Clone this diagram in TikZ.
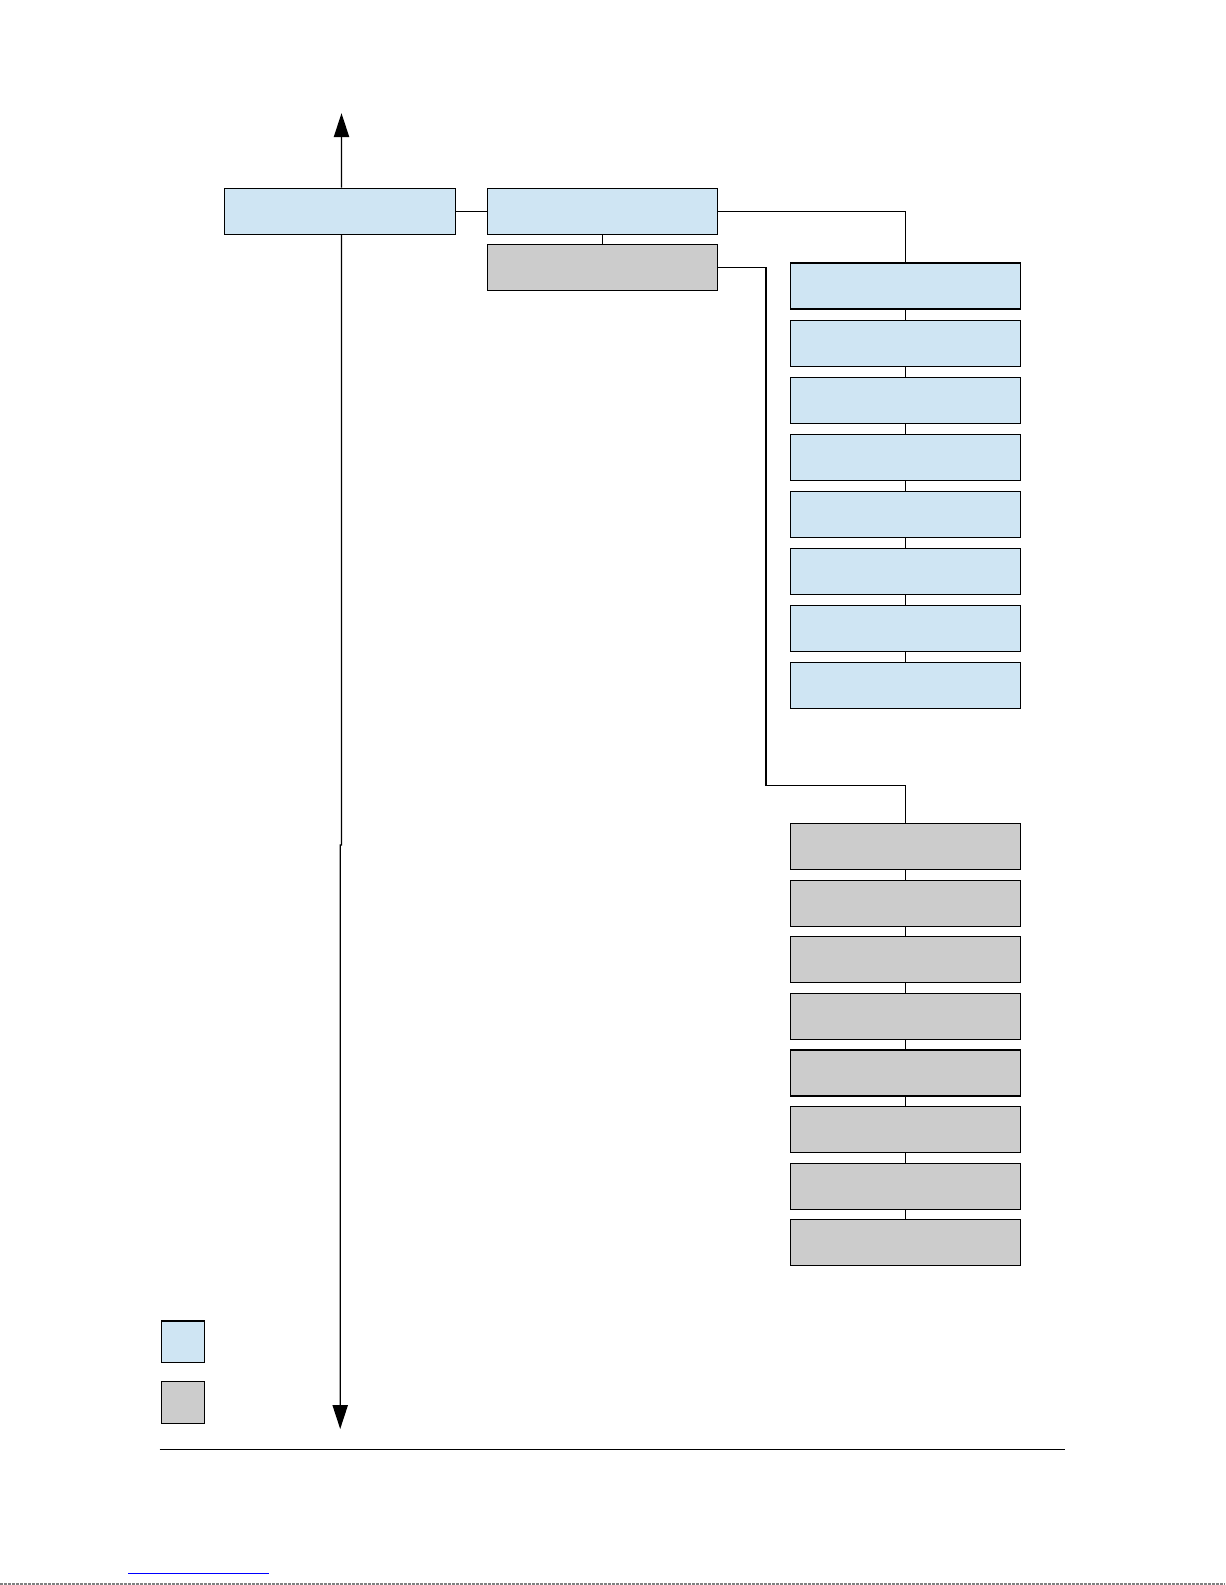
\documentclass[tikz,border=0pt]{standalone}
\usetikzlibrary{arrows.meta,calc}
\definecolor{lightblue}{RGB}{207,229,243}
\definecolor{boxgray}{RGB}{204,204,204}
\begin{document}
\begin{tikzpicture}[x=0.75pt,y=-0.75pt,
  box/.style={draw=black,line width=0.9pt,inner sep=0pt,minimum width=172.5pt,minimum height=34.5pt},
  bluebox/.style={box,fill=lightblue},
  graybox/.style={box,fill=boxgray},
  legbox/.style={draw=black,line width=0.9pt,inner sep=0pt,minimum width=31.9pt,minimum height=31.2pt},
  conn/.style={draw=black,line width=0.9pt},
  arr/.style={conn,-{Triangle[length=18pt,width=11.5pt]}}]
\useasboundingbox (0,0) rectangle (1225,1585);
% main boxes
\node[bluebox,minimum width=173pt] (A) at (340.1,211.2) {};
\node[bluebox] (B) at (602.3,211.2) {};
\node[graybox] (C) at (602.3,267.8) {};
% right columns
\foreach \i in {1,...,8}{
  \node[bluebox] (b\i) at (905.4,{286+57.1*(\i-1)}) {};
  \node[graybox] (g\i) at (905.4,{846.5+56.6*(\i-1)}) {};
}
\foreach \i [evaluate=\i as \j using int(\i+1)] in {1,...,7}{
  \draw[conn] (b\i.south) -- (b\j.north);
  \draw[conn] (g\i.south) -- (g\j.north);
}
% connectors
\draw[conn] (A.east) -- (B.west);
\draw[conn] (B.south) -- (C.north);
\draw[conn] (B.east) -| (b1.north);
\coordinate (cj1) at (766,267.8);
\coordinate (cj2) at (766,785.3);
\draw[conn] (C.east) -- (cj1) -- (cj2) -| (g1.north);
% vertical axis arrows
\coordinate (atop) at ($(A.north)+(1.4,0)$);
\coordinate (abot) at ($(A.south)+(1.4,0)$);
\coordinate (top) at (341.5,113.2);
\coordinate (jog1) at (341.5,845);
\coordinate (jog2) at (340.2,845);
\coordinate (bot) at (340.2,1429);
\draw[arr] (atop) -- (top);
\draw[arr] (abot) -- (jog1) -- (jog2) -- (bot);
% legend
\node[legbox,fill=lightblue] (L1) at (183,1341.7) {};
\node[legbox,fill=boxgray] (L2) at (183,1402.4) {};
% footer rule
\coordinate (r1) at (159.7,1449.3);
\coordinate (r2) at (1065.3,1449.3);
\draw[conn] (r1) -- (r2);
\coordinate (u1) at (128,1573.6);
\coordinate (u2) at (269,1573.6);
\draw[blue,line width=0.8pt] (u1) -- (u2);
\coordinate (d1) at (0,1584);
\coordinate (d2) at (1225,1584);
\draw[gray,line width=0.8pt,dash pattern=on 2pt off 1pt] (d1) -- (d2);
\end{tikzpicture}
\end{document}
